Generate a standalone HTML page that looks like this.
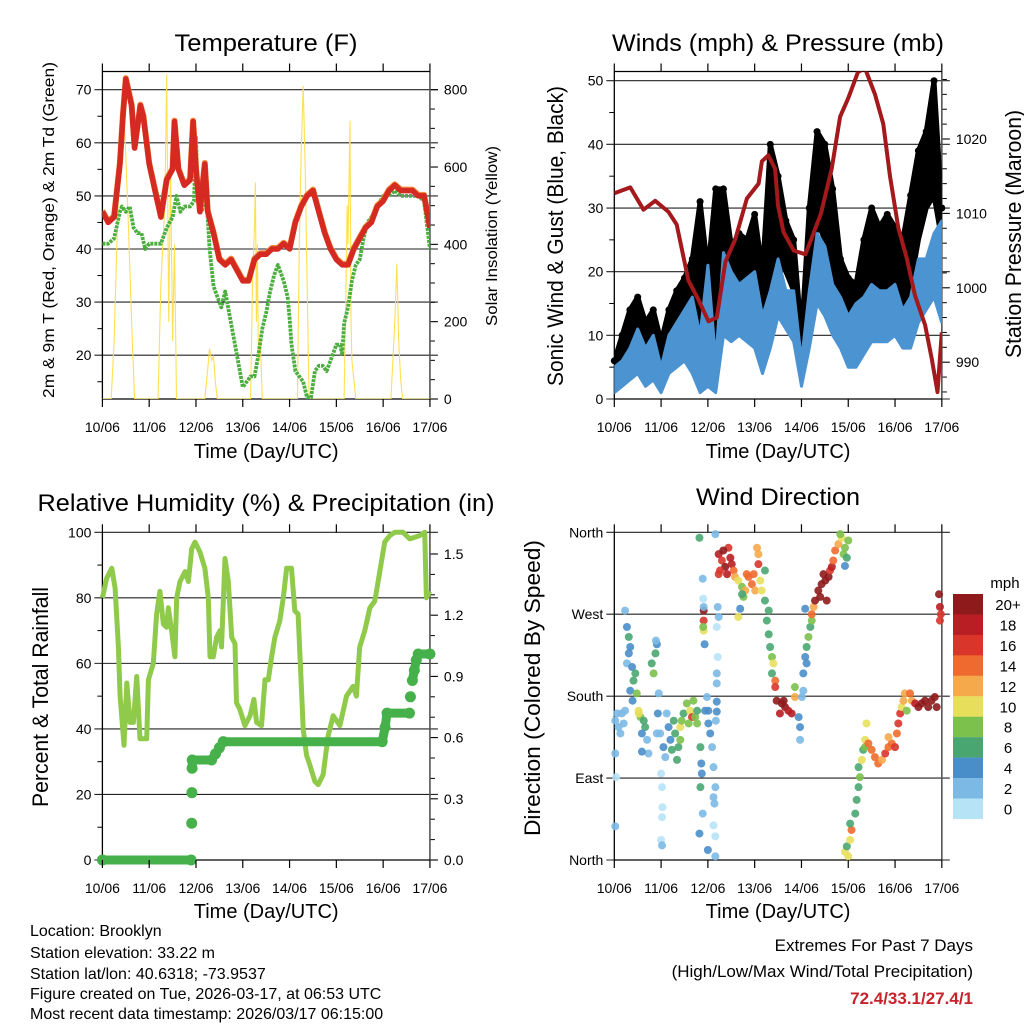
<!DOCTYPE html>
<html><head><meta charset="utf-8"><title>Brooklyn station meteogram</title>
<style>
html,body{margin:0;padding:0;background:#fff;}
svg{display:block;font-family:"Liberation Sans",Arial,sans-serif;}
</style></head>
<body>
<svg id="chart" width="1024" height="1024" viewBox="0 0 1024 1024" xmlns="http://www.w3.org/2000/svg">
<rect width="1024" height="1024" fill="#fff"/>
<g id="layer"></g>
<g font-size="16" fill="#000">
<text x="30" y="936">Location: Brooklyn</text>
<text x="30" y="958">Station elevation: 33.22 m</text>
<text x="30" y="979">Station lat/lon: 40.6318; -73.9537</text>
<text x="30" y="999">Figure created on Tue, 2026-03-17, at 06:53 UTC</text>
<text x="30" y="1019">Most recent data timestamp: 2026/03/17 06:15:00</text>
</g>
<g font-size="17" text-anchor="end">
<text x="973" y="951">Extremes For Past 7 Days</text>
<text x="973" y="977">(High/Low/Max Wind/Total Precipitation)</text>
<text x="973" y="1004" fill="#c8232c" font-weight="bold">72.4/33.1/27.4/1</text>
</g>
</svg>
<script>
// ---------- data ----------
const dayLabels = ["10/06","11/06","12/06","13/06","14/06","15/06","16/06","17/06"];
const tempHours = [0,3,6,9,10.5,12,15,16.5,19.5,21,24,27,30,33,36,37,39,42,45,46.5,48,50,52.5,54,57,60,63,66,69,72,75,78,81,84,87,90,93,96,99,102,105,108,111,114,117,120,123,126,129,132,135,138,141,144,147,150,153,156,159,162,165,168];
const tempValues = [47,45,46,56,65,72,67,59,67,65,56,51,46,53,55,64,55,52,53,64,55,47,56,47,43,38,37,38,36,34,34,38,39,39,40,40,41,40,45,48,50,51,47,43,40,38,37,37,40,42,44,45,48,49,51,52,51,51,51,50,50,44];
const dewHours = [0,3,6,9,10,12,14,16,18,20,22,24,27,30,33,36,38,40,42,45,47,48,49,51,52,53,55,57,59,61,63,65,68,70,72,74,76,78,80,82,84,86,88,90,93,95,96,97,99,101,103,105,107,109,111,113,115,118,120,122,123,124,126,128,130,132,134,136,138,141,144,147,150,153,156,159,162,165,168];
const dewValues = [41,41,42,47,48,47,48,44,43,43,40,41,41,41,44,46,50,47,48,48,49,61,50,47,49,52,40,33,31,29,32,28,22,18,14,15,16,16,20,25,28,32,35,37,34,31,27,22,17,16,15,12,12,17,18,18,17,20,22,22,20,26,29,34,37,38,42,45,46,48,50,50,51,50,50,50,50,49,40];
const solarHours = [0,4.5,6,8,10,11,13,15,16.5,28.5,30,32,33,34,35,36,37,38,52.5,53.5,55,56,57,58,59,76,77,78,78.5,79,79.5,80,81,82,100,101,102,103,104,105,106,124,125,125.5,126,127,127.5,128,129,130,148,149,150,151,152,153,154,168];
const solarValues = [0,0,150,500,700,760,500,200,0,0,300,500,840,200,600,150,400,0,0,50,130,100,110,40,0,0,300,450,560,200,400,100,150,0,0,400,650,810,600,300,0,0,300,500,400,720,200,100,50,0,0,100,200,350,150,50,0,0];
const windHours = [0,4,8,12,16,20,24,28,32,36,40,44,48,52,56,60,64,68,72,76,80,84,88,92,96,100,104,108,112,116,120,124,128,132,136,140,144,148,152,156,160,164,168];
const windLow  = [1,2,3,4,2,3,1,4,5,6,4,1,2,1,10,9,10,9,8,4,8,13,11,9,2,8,15,13,10,8,5,5,7,9,9,9,10,8,8,12,14,16,12];
const windHigh = [5,6,8,11,8,10,5,10,12,14,16,10,21,6,23,20,18,19,20,13,17,22,17,17,6,17,26,24,18,16,13,15,16,18,17,17,18,14,16,22,22,26,28];
const gustLow  = [2,4,6,8,5,6,3,7,8,11,8,3,4,3,18,14,15,14,13,7,14,22,20,17,4,12,28,25,16,12,8,9,14,17,18,16,16,12,18,25,30,32,25];
const gustHigh = [6,10,14,16,12,14,9,14,17,19,22,31,20,33,33,24,26,25,29,20,40,35,28,25,10,30,42,40,33,22,19,18,25,30,27,29,27,25,32,39,42,50,30];
const pressHours = [0,8.2,15,21,27.8,32,38,43,48.3,52.6,57,62,68,74,75.7,79,82.5,84,86.8,92,98,101,106,111.5,115.8,120,125,128.6,133.7,138,141.4,145.7,150,154.2,159.4,162.8,165.8,168];
const pressValues = [1012.7,1013.5,1010.5,1011.7,1010.2,1008.5,1001,998.5,995.5,996,1003.5,1006.5,1012,1014,1017,1017.8,1016,1011,1007.5,1005,1004.5,1006.5,1010,1016,1023,1025.5,1029,1029.5,1026,1022,1015,1008,1004,999,995,990.5,986,994];
const rhHours = [0,2.2,4.8,6.5,8.2,9.1,11.1,12.5,14.2,15.9,17.6,19.3,22.7,23.6,26.1,27.8,29.5,31.3,33,33.8,35.5,37.2,38.1,39.8,42.4,44.1,45.8,47.5,50,52.6,54.3,55.2,56.9,58.6,60.3,61.1,62.9,64.6,66.3,68,68.8,70.5,73.1,75.7,77.7,79.1,81.6,83.4,85.1,86.8,88.5,91,92.8,94.5,97,98.7,100.4,102.1,103,104.7,106.4,109,110.7,113.2,115.8,118.4,121.8,125.2,128.6,130.3,132,134.6,137.2,139.7,142.3,144.8,147.4,150,154.2,157.6,162.8,165.3,166.2,167.9];
const rhValues = [80,86,89,83,65,50,35,54,42,42,56,37,37,55,60,75,82,72,71,77,70,62,80,85,88,85,95,97,94,89,80,62,62,68,70,65,92,85,68,66,48,46,41,44,49,42,41,55,55,62,68,73,80,89,89,76,75,52,40,32,29,24,23,26,38,44,41,50,53,50,65,70,77,79,88,97,99,100,100,98,99,100,80,82];
const rainHours = [0,45.5,45.8,45.9,46,46.1,56,58,60,62,143.5,145,146,157.5,158,159,160,161,162,168];
const rainValues = [0,0,0.18,0.33,0.45,0.49,0.49,0.52,0.55,0.58,0.58,0.65,0.72,0.72,0.8,0.88,0.93,0.98,1.01,1.01];
// wind direction observations: [day offset, degrees, mph]
const windDirObs = [
[.02,153,2],[.06,161,2],[.09,146,2],[.13,139,2],[.16,161,2],[.2,150,2],[.02,117,2],[.23,164,2],[.04,91,1],[.02,37,2],[.23,274,3],
[.27,256,5],[.31,245,6],[.34,234,4],[.27,216,3],[.38,212,4],[.41,197,6],[.34,186,4],[.39,175,4],[.45,205,7],[.48,183,9],[.31,227,5],
[.52,164,10],[.56,157,8],[.63,153,6],[.66,146,6],[.59,139,4],[.7,132,3],[.73,117,2],[.59,119,4],[.52,161,11],
[.8,216,6],[.84,205,8],[.88,227,6],[.91,237,4],[.89,241,3],[.95,183,3],[.93,161,4],[.91,139,3],
[1.0,95,1],[1.02,80,1],[1.03,58,1],[1.02,47,1],[1.0,22,1],[1.02,16,2],
[.98,139,3],[1.05,124,4],[1.12,161,3],[1.16,146,4],[1.09,113,3],[1.2,132,5],
[1.27,153,6],[1.3,139,7],[1.37,124,6],[1.34,110,6],[1.41,146,10],[1.44,153,8],[1.48,161,6],[1.41,132,9],[1.23,121,6],
[1.55,172,9],[1.62,164,10],[1.66,157,16],[1.59,150,8],[1.73,157,8],[1.77,164,6],[1.69,175,9],[1.77,150,8],
[1.82,354,7],[1.89,309,3],[1.9,287,1],[1.91,274,20],[1.91,263,17],[1.91,252,11],[1.93,237,4],[1.84,124,6],[1.86,106,4],[1.87,95,4],[1.84,80,7],[1.82,29,4],[1.89,51,3],[1.91,278,3],[1.9,256,8],
[1.98,179,3],[2.01,164,4],[2.05,139,4],[2.09,124,3],[2.12,102,3],[2.16,80,2],[2.12,69,2],[2.14,62,2],[2.12,38,1],[2.16,26,1],[2.0,11,4],[2.16,4,3],[2.16,358,2],[2.21,278,2],[2.23,267,2],[2.19,256,1],[2.21,223,1],[2.19,205,3],[2.19,194,3],[2.19,174,4],[2.19,163,4],[2.17,153,3],[2.01,150,4],[1.94,164,4],
[2.23,336,18],[2.3,329,17],[2.37,322,20],[2.26,318,16],[2.44,343,17],[2.48,332,18],[2.51,325,18],[2.33,340,20],[2.55,318,14],[2.41,314,18],[2.23,314,17],
[2.58,311,12],[2.65,307,10],[2.73,300,9],[2.76,289,8],[2.8,296,12],[2.87,311,14],[2.94,303,15],[3.01,296,12],[3.08,325,17],[3.08,336,12],[3.05,343,12],[3.12,307,10],[3.15,296,10],[3.22,318,7],[2.69,276,4],[2.65,267,10],[2.73,292,6],[2.83,314,14],[2.98,314,15],
[3.22,285,7],[3.3,274,6],[3.26,263,6],[3.3,248,6],[3.33,234,7],[3.37,223,8],[3.4,216,11],[3.37,205,6],[3.44,197,15],[3.44,190,16],
[3.47,175,20],[3.58,172,20],[3.65,168,20],[3.72,164,19],[3.79,161,19],[3.86,179,13],[3.54,161,18],[3.62,175,20],[3.86,190,8],
[3.94,157,4],[3.97,146,4],[3.97,132,3],[4.01,179,3],[4.04,186,3],
[4.04,205,4],[4.08,223,4],[4.11,234,6],[4.15,245,8],[4.19,256,6],[4.22,263,8],[4.11,216,4],[4.08,276,4],[4.22,270,14],[4.26,278,12],
[4.29,285,20],[4.36,296,20],[4.43,303,20],[4.51,307,20],[4.58,311,20],[4.54,285,20],[4.4,289,20],[4.61,318,17],[4.65,322,18],[4.47,314,20],
[4.68,329,14],[4.72,340,14],[4.79,347,12],[4.86,354,10],[4.9,336,8],[4.93,343,8],[4.97,332,7],[5.0,351,8],[4.83,358,9],[4.93,323,4],
[4.93,9,10],[5.0,4,10],[4.97,15,6],[5.04,22,10],[5.07,33,14],[5.04,40,6],[5.15,51,7],[5.18,66,6],[5.22,80,7],[5.25,91,9],[5.22,102,6],[5.29,110,10],[5.32,121,7],[5.36,132,10],[5.39,150,10],[5.36,124,8],
[5.43,128,14],[5.5,121,15],[5.57,113,14],[5.64,106,14],[5.72,110,13],[5.79,117,17],[5.86,124,14],[5.93,128,14],[6.0,124,16],[5.86,135,12],[6.04,139,14],[6.07,150,17],[6.11,161,16],[6.14,168,11],[6.18,175,12],[6.25,164,8],[6.21,183,13],
[6.36,175,12],[6.43,172,18],[6.5,168,20],[6.57,172,20],[6.64,175,20],[6.71,168,20],[6.78,175,20],[6.85,179,20],[6.89,168,20],[6.32,183,14],
[6.94,292,20],[6.96,278,18],[6.98,270,17],[6.96,263,16]
];
const speedBinLabels = ["20+","18","16","14","12","10","8","6","4","2","0"];
const speedBinColors = ["#8e1a1c","#b81e24","#d9352b","#ef6a2e","#f6a94a","#e7df5c","#7cc14c","#4aa671","#4a8ec9","#7cb9e4","#b7e3f7"];

// ---------- helpers ----------
const NS = "http://www.w3.org/2000/svg";
const layer = document.getElementById("layer");
function mk(tag, attrs, parent) {
  const el = document.createElementNS(NS, tag);
  for (const k in attrs) el.setAttribute(k, attrs[k]);
  (parent || layer).appendChild(el);
  return el;
}
function txt(x, y, s, size, anchor, parent, extra) {
  const t = mk("text", Object.assign({x: x, y: y, "font-size": size, "text-anchor": anchor || "middle", fill: "#000"}, extra || {}), parent);
  t.textContent = s;
  return t;
}
const DAYW = 46.79;
function panel(name, x0, top, bottom) {
  const g = mk("g", {});
  
  
  return {g: g, x0: x0, x1: x0 + 7 * DAYW, top: top, bottom: bottom, xh: h => x0 + h / 24 * DAYW, xd: d => x0 + d * DAYW};
}
function pathFrom(xs, ys, maxJump) {
  const n = Math.min(xs.length, ys.length);
  let d = "";
  for (let i = 0; i < n; i++) {
    const brk = i === 0 || (maxJump && Math.abs(ys[i] - ys[i - 1]) > maxJump);
    d += (brk ? " M" : " L") + xs[i].toFixed(1) + " " + ys[i].toFixed(1);
  }
  return d.trim();
}

function xAxis(p, withTitle, titleY) {
  const g = mk("g", {}, p.g);
  
  
  for (let i = 0; i < dayLabels.length; i++) {
    const x = p.xd(i);
    mk("line", {x1: x, x2: x, y1: p.bottom, y2: p.bottom + 8, stroke: "#000", "stroke-width": 1.2}, g);
    mk("line", {x1: x, x2: x, y1: p.top, y2: p.top - 8, stroke: "#000", "stroke-width": 1.2}, g);
    const t = txt(x, p.bottom + 33, dayLabels[i], 14, "middle", g);
    
    
  }
  const tt = txt((p.x0 + p.x1) / 2, titleY, "Time (Day/UTC)", 20, "middle", g);
  
  
}
function frame(p, topLine) {
  mk("line", {x1: p.x0, x2: p.x0, y1: p.top, y2: p.bottom, stroke: "#000", "stroke-width": 1.3}, p.g);
  mk("line", {x1: p.x1, x2: p.x1, y1: p.top, y2: p.bottom, stroke: "#555", "stroke-width": 1.6}, p.g);
  mk("line", {x1: p.x0, x2: p.x1, y1: p.bottom, y2: p.bottom, stroke: "#000", "stroke-width": 1.3}, p.g);
  if (topLine) mk("line", {x1: p.x0, x2: p.x1, y1: p.top, y2: p.top, stroke: "#000", "stroke-width": 1.3}, p.g);
}
function grid(p, y, ext) {
  mk("line", {x1: p.x0 - 8, x2: p.x1 + (ext || 8), y1: y, y2: y, stroke: "#222", "stroke-width": 1.1}, p.g);
}
function leftTicks(p, vals, yf, labels, minor, minorY) {
  vals.forEach((v, i) => {
    grid(p, yf(v));
    const t = txt(p.x0 - 11, yf(v) + 5, labels[i], 14, "end", p.g);
    
    
  });
  (minor || []).forEach(v => mk("line", {x1: p.x0, x2: p.x0 - 5, y1: minorY(v), y2: minorY(v), stroke: "#000"}, p.g));
}
function rightTicks(p, vals, yf, labels, minor) {
  vals.forEach((v, i) => {
    mk("line", {x1: p.x1, x2: p.x1 + 8, y1: yf(v), y2: yf(v), stroke: "#000", "stroke-width": 1.1}, p.g);
    const t = txt(p.x1 + 14, yf(v) + 5, labels[i], 14, "start", p.g);
    
    
  });
  (minor || []).forEach(v => mk("line", {x1: p.x1, x2: p.x1 + 5, y1: yf(v), y2: yf(v), stroke: "#000"}, p.g));
}
function vTitle(x, yc, s, size, len, name, parent) {
  const t = mk("text", {x: 0, y: 0, "font-size": size, "text-anchor": "middle", transform: "translate(" + x + "," + yc + ") rotate(-90)", textLength: len, lengthAdjust: "spacingAndGlyphs"}, parent);
  t.textContent = s;
  
  
}
function title(x, y, s, len, name, parent) {
  const t = mk("text", {x: x, y: y, "font-size": 24, "text-anchor": "middle", textLength: len, lengthAdjust: "spacingAndGlyphs"}, parent);
  t.textContent = s;
  
  
}

// ---------- Panel 1: Temperature ----------
(function () {
  const p = panel("temperature-panel", 102.4, 71.5, 399);
  const yT = v => 89.7 + (70 - v) * 5.31;
  const yS = v => 399 - v * (309.3 / 800);
  title(266, 51, "Temperature (F)", 183, "temperature-title", p.g);
  const tv = [20, 30, 40, 50, 60, 70];
  leftTicks(p, tv, yT, tv.map(String), [15, 25, 35, 45, 55, 65], yT);
  const sv = [0, 200, 400, 600, 800];
  rightTicks(p, sv, yS, sv.map(String), [50, 100, 150, 250, 300, 350, 450, 500, 550, 650, 700, 750]);
  frame(p, true);
  const clip = mk("clipPath", {id: "c1"}, p.g);
  mk("rect", {x: p.x0, y: p.top, width: p.x1 - p.x0, height: p.bottom - p.top}, clip);
  const solar = mk("path", {d: pathFrom(solarHours.map(p.xh), solarValues.map(yS)), fill: "none", stroke: "#ffe050", "stroke-width": 1.1, "clip-path": "url(#c1)"}, p.g);
  
  
  const dew = mk("path", {d: pathFrom(dewHours.map(p.xh), dewValues.map(yT)), fill: "none", stroke: "#4cae3e", "stroke-width": 3.8, "stroke-dasharray": "3 1", "stroke-linejoin": "round", "clip-path": "url(#c1)"}, p.g);
  
  
  const t9 = mk("path", {d: pathFrom(tempHours.map(p.xh), tempValues.map(v => yT(v) - 1)), fill: "none", stroke: "#f08a3c", "stroke-width": 6, "stroke-linejoin": "round", "clip-path": "url(#c1)"}, p.g);
  
  
  const t2 = mk("path", {d: pathFrom(tempHours.map(p.xh), tempValues.map(yT)), fill: "none", stroke: "#d42a22", "stroke-width": 5.5, "stroke-linejoin": "round", "clip-path": "url(#c1)"}, p.g);
  
  
  xAxis(p, true, 458);
  vTitle(54, 230, "2m & 9m T (Red, Orange) & 2m Td (Green)", 16, 336, "temperature-y-title", p.g);
  vTitle(497, 236, "Solar Insolation (Yellow)", 16, 180, "solar-y-title", p.g);
})();

// ---------- Panel 2: Winds & Pressure ----------
(function () {
  const p = panel("winds-panel", 614.3, 71.5, 399);
  const yW = v => 399 - v * 6.366;
  const yP = v => 139 + (1020 - v) * 7.44;
  title(778, 51, "Winds (mph) & Pressure (mb)", 332, "winds-title", p.g);
  const wv = [0, 10, 20, 30, 40, 50];
  leftTicks(p, wv, yW, wv.map(String), [5, 15, 25, 35, 45], yW);
  const pv = [990, 1000, 1010, 1020];
  rightTicks(p, pv, yP, pv.map(String), [986, 988, 992, 994, 996, 998, 1002, 1004, 1006, 1008, 1012, 1014, 1016, 1018, 1022, 1024, 1026, 1028]);
  frame(p, true);
  const clip = mk("clipPath", {id: "c2"}, p.g);
  mk("rect", {x: p.x0, y: p.top, width: p.x1 - p.x0, height: p.bottom - p.top}, clip);
  const xs = windHours.map(p.xh);
  const gust = mk("path", {d: pathFrom(xs.concat(xs.slice().reverse()), gustHigh.map(yW).concat(gustLow.map(yW).reverse())) + " Z", fill: "#000", stroke: "#000", "stroke-width": 5, "stroke-linejoin": "round", "clip-path": "url(#c2)"}, p.g);
  
  
  gustHigh.forEach((v, i) => {
    const c = mk("circle", {cx: xs[i], cy: yW(v), r: 3.5, fill: "#000"}, p.g);
    
    
  });
  const wind = mk("path", {d: pathFrom(xs.concat(xs.slice().reverse()), windHigh.map(yW).concat(windLow.map(yW).reverse())) + " Z", fill: "#4b93d1", stroke: "#4b93d1", "stroke-width": 3, "stroke-linejoin": "round", "clip-path": "url(#c2)"}, p.g);
  
  
  const pr = mk("path", {d: pathFrom(pressHours.map(p.xh), pressValues.map(yP)), fill: "none", stroke: "#a3191c", "stroke-width": 4, "stroke-linejoin": "round", "clip-path": "url(#c2)"}, p.g);
  
  
  xAxis(p, true, 458);
  vTitle(563, 236, "Sonic Wind & Gust (Blue, Black)", 22, 300, "wind-y-title", p.g);
  vTitle(1021, 234, "Station Pressure (Maroon)", 22, 248, "pressure-y-title", p.g);
})();

// ---------- Panel 3: RH & Precip ----------
(function () {
  const p = panel("humidity-panel", 102.4, 532.3, 860);
  const yR = v => 860 - v * 3.277;
  const yPr = v => 860 - v * 204;
  title(266, 511, "Relative Humidity (%) & Precipitation (in)", 457, "humidity-title", p.g);
  const rv = [0, 20, 40, 60, 80, 100];
  leftTicks(p, rv, yR, rv.map(String), [10, 30, 50, 70, 90], yR);
  const prv = [0, 0.3, 0.6, 0.9, 1.2, 1.5];
  rightTicks(p, prv, yPr, prv.map(v => v.toFixed(1)), [0.1, 0.2, 0.4, 0.5, 0.7, 0.8, 1.0, 1.1, 1.3, 1.4]);
  frame(p, false);
  const rh = mk("path", {d: pathFrom(rhHours.map(p.xh), rhValues.map(yR)), fill: "none", stroke: "#8fca4b", "stroke-width": 5, "stroke-linejoin": "round"}, p.g);
  
  
  const rain = mk("path", {d: pathFrom(rainHours.map(p.xh), rainValues.map(yPr), 15), fill: "none", stroke: "#46b04a", "stroke-width": 9, "stroke-linecap": "round", "stroke-linejoin": "round"}, p.g);
  
  
  rainValues.forEach((v, i) => {
    const c = mk("circle", {cx: p.xh(rainHours[i]), cy: yPr(v), r: 5.5, fill: "#46b04a"}, p.g);
    
    
  });
  xAxis(p, true, 918);
  vTitle(48, 697, "Percent & Total Rainfall", 22, 220, "humidity-y-title", p.g);
})();

// ---------- Panel 4: Wind direction ----------
(function () {
  const p = panel("wind-direction-panel", 614.3, 532.3, 860);
  const yD = v => 860 - v * (327.7 / 360);
  title(778, 505, "Wind Direction", 164, "wind-direction-title", p.g);
  const dv = [0, 90, 180, 270, 360];
  const dl = ["North", "East", "South", "West", "North"];
  leftTicks(p, dv, yD, dl, [], yD);
  frame(p, false);
  const binOf = s => Math.max(0, Math.min(10, 10 - Math.floor(s / 2)));
  windDirObs.forEach(o => {
    const c = mk("circle", {cx: p.xd(o[0]), cy: yD(o[1]), r: 4, fill: speedBinColors[binOf(o[2])], "fill-opacity": 0.9}, p.g);
    
    
  });
  xAxis(p, true, 918);
  vTitle(540, 688, "Direction (Colored By Speed)", 22, 296, "direction-y-title", p.g);
  const lg = mk("g", {}, p.g);
  
  
  const lt = txt(1005, 588, "mph", 15, "middle", lg);
  
  
  speedBinLabels.forEach((lab, i) => {
    const r = mk("rect", {x: 953, y: 594 + i * 20.45, width: 30, height: 20.6, fill: speedBinColors[i]}, lg);
    
    
    const t = txt(1008, 594 + i * 20.45 + 16, lab, 15, "middle", lg);
    
    
  });
})();
</script>
</body></html>
